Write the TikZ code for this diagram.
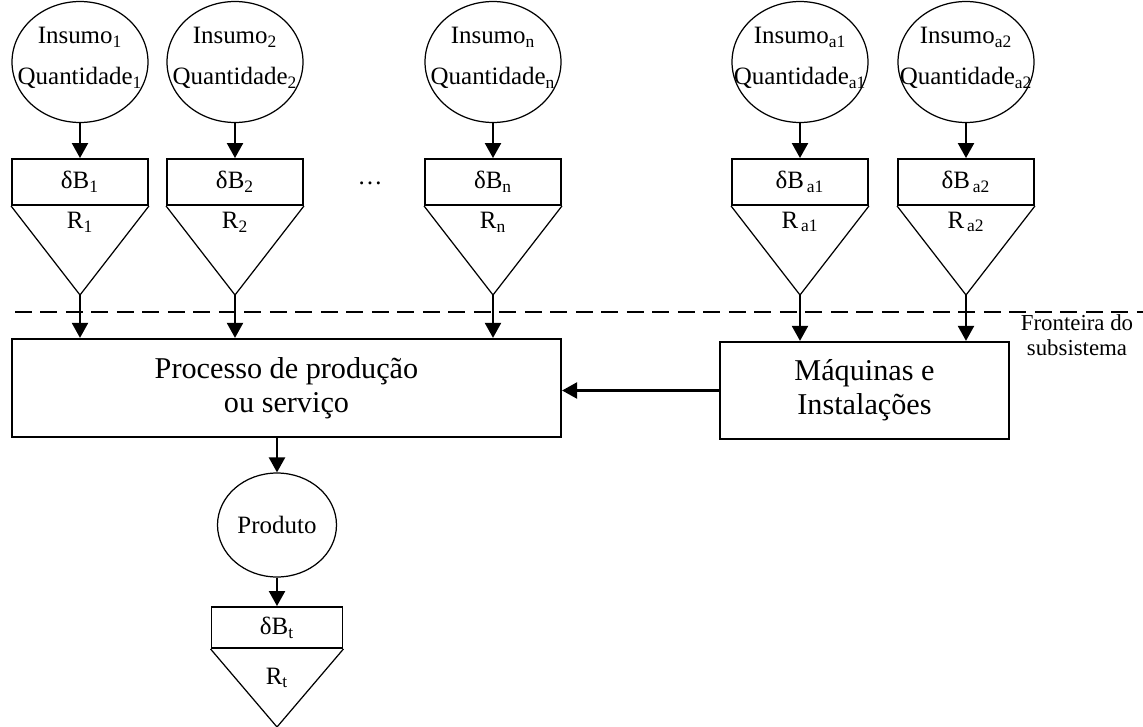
\documentclass[tikz,border=0pt]{standalone}
\usepackage{fontspec}
\setmainfont{Liberation Serif}
\usetikzlibrary{arrows.meta,positioning,shapes.geometric,calc}
\newcommand{\txtpeq}{\fontsize{14.2}{23}\selectfont}
\newcommand{\txtgrd}{\fontsize{17.2}{19.3}\selectfont}

\tikzset{
  seta/.style={-{Triangle[length=0.3cm,width=0.32cm]},line width=1.3pt},
  insumo/.style={ellipse,draw,line width=0.7pt,minimum width=2.72cm,
    minimum height=2.42cm,inner sep=0pt},
  caixa/.style={rectangle,draw,line width=1.1pt,minimum width=2.72cm,
    minimum height=0.92cm,inner sep=0pt,font=\txtpeq},
  bloco/.style={rectangle,draw,line width=1.3pt,align=center,font=\txtgrd},
  funil/.style={line width=0.7pt}
}

\begin{document}
\begin{tikzpicture}[x=0.02cm,y=-0.02cm]
  \useasboundingbox (0,0) rectangle (1143,727);
  %% ---- blocos do processo ----
  \node[bloco,minimum width=10.98cm,minimum height=1.96cm] (proc) at (286.5,388)
    {Processo de produção\\ou serviço};
  \node[bloco,minimum width=5.78cm,minimum height=1.94cm] (maq) at (864.5,390.5)
    {Máquinas e\\Instalações};
  \draw[seta] (maq.west) -- (maq.west -| proc.east);

  %% ---- fronteira do subsistema ----
  \draw[line width=0.7pt,dash pattern=on 0.34cm off 0.17cm] (15,312) -- (1143,312);
  \node[font=\fontsize{13}{14.5}\selectfont,align=center] (front) at (1077,335)
    {Fronteira do\\subsistema};

  %% ---- insumos: x / nome / indice / indice do balanco ----
  \foreach \px/\id/\ia/\ib in {80/1/1/1, 235/2/2/2, 493/n/n/n,
      800/a1/a1/{\,a1}, 966/a2/a2/{\,a2}}{
    \node[insumo] (in\id) at (\px,62) {};
    \node[font=\txtpeq,align=center] (q\id) at (\px,58)
      {Insumo\textsubscript{\ia}\\Quantidade\textsubscript{\ia}};
    \node[caixa] (db\id) at (\px,182) {δB\textsubscript{\ib}};
    \coordinate (t\id) at (\px,295);
    \draw[funil] (db\id.south west) -- (t\id) -- (db\id.south east);
    \node[font=\txtpeq] (r\id) at (\px,222) {R\textsubscript{\ib}};
    \draw[seta] (in\id) -- (db\id);
  }
  \node[font=\txtpeq] (dots) at (370,183) {…};

  %% ---- entradas nos blocos ----
  \foreach \id in {1,2,n}
    \draw[seta] (t\id) -- (t\id |- proc.north);
  \foreach \id in {a1,a2}
    \draw[seta] (t\id) -- (t\id |- maq.north);

  %% ---- produto ----
  \node[insumo,minimum width=2.38cm,minimum height=2.08cm,font=\txtpeq] (prod)
    at (277,525) {Produto};
  \draw[seta] (prod |- proc.south) -- (prod);
  \node[caixa,minimum width=2.62cm,minimum height=0.82cm] (dbt) at (277,627.5)
    {δB\textsubscript{t}};
  \coordinate (tt) at (277,727);
  \draw[funil] (dbt.south west) -- (tt) -- (dbt.south east);
  \node[font=\txtpeq] (rt) at (277,678) {R\textsubscript{t}};
  \draw[seta] (prod) -- (dbt);
\end{tikzpicture}
\end{document}
